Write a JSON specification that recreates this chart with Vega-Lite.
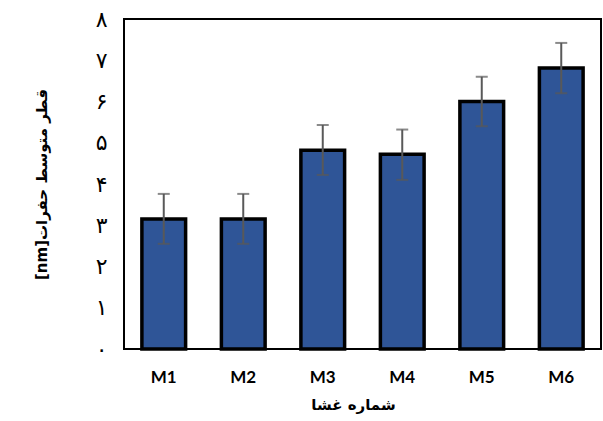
{
  "$schema": "https://vega.github.io/schema/vega-lite/v6.json",
  "autosize": "none",
  "width": 477,
  "height": 330,
  "padding": {"left": 124, "top": 19, "right": 2, "bottom": 72},
  "background": "white",
  "config": {
    "view": {"stroke": "black", "strokeWidth": 2},
    "axis": {"grid": false, "domain": false, "ticks": false}
  },
  "data": {"values": [
    {"m": "M1", "v": 3.15, "lo": 2.55, "hi": 3.76},
    {"m": "M2", "v": 3.15, "lo": 2.55, "hi": 3.76},
    {"m": "M3", "v": 4.82, "lo": 4.22, "hi": 5.43},
    {"m": "M4", "v": 4.72, "lo": 4.1, "hi": 5.32},
    {"m": "M5", "v": 6.0, "lo": 5.4, "hi": 6.6},
    {"m": "M6", "v": 6.81, "lo": 6.2, "hi": 7.42}
  ]},
  "encoding": {
    "x": {"field": "m", "type": "nominal", "sort": null,
      "scale": {"paddingInner": 0.45, "paddingOuter": 0.225},
      "axis": {"title": "شماره غشا", "labelAngle": 0, "labelFont": "Lato", "labelFontWeight": "bold", "labelFontSize": 17, "labelColor": "black", "labelPadding": 20, "titleFont": "DejaVu Sans", "titleFontWeight": "bold", "titleFontSize": 15, "titleColor": "black", "titlePadding": 12, "titleX": 229}}
  },
  "layer": [
    {
      "mark": {"type": "bar", "fill": "#2F5597", "stroke": "black", "strokeWidth": 3.5},
      "encoding": {
        "y": {"field": "v", "type": "quantitative",
          "scale": {"domain": [0, 8], "nice": false},
          "axis": {"values": [0,1,2,3,4,5,6,7,8], "labelExpr": "['۰','۱','۲','۳','۴','۵','۶','۷','۸'][datum.value]", "labelFont": "DejaVu Sans", "labelFontSize": 22, "labelColor": "black", "labelPadding": 17, "title": "[nm]قطر متوسط حفرات", "titleFont": "DejaVu Sans", "titleFontWeight": "bold", "titleFontSize": 15, "titleColor": "black", "titlePadding": 46}}
      }
    },
    {
      "mark": {"type": "rule", "color": "#595959", "strokeWidth": 2},
      "encoding": {"y": {"field": "lo", "type": "quantitative"}, "y2": {"field": "hi"}}
    },
    {
      "mark": {"type": "tick", "color": "#595959", "thickness": 2, "size": 12, "orient": "horizontal"},
      "encoding": {"y": {"field": "lo", "type": "quantitative"}}
    },
    {
      "mark": {"type": "tick", "color": "#595959", "thickness": 2, "size": 12, "orient": "horizontal"},
      "encoding": {"y": {"field": "hi", "type": "quantitative"}}
    }
  ]
}
